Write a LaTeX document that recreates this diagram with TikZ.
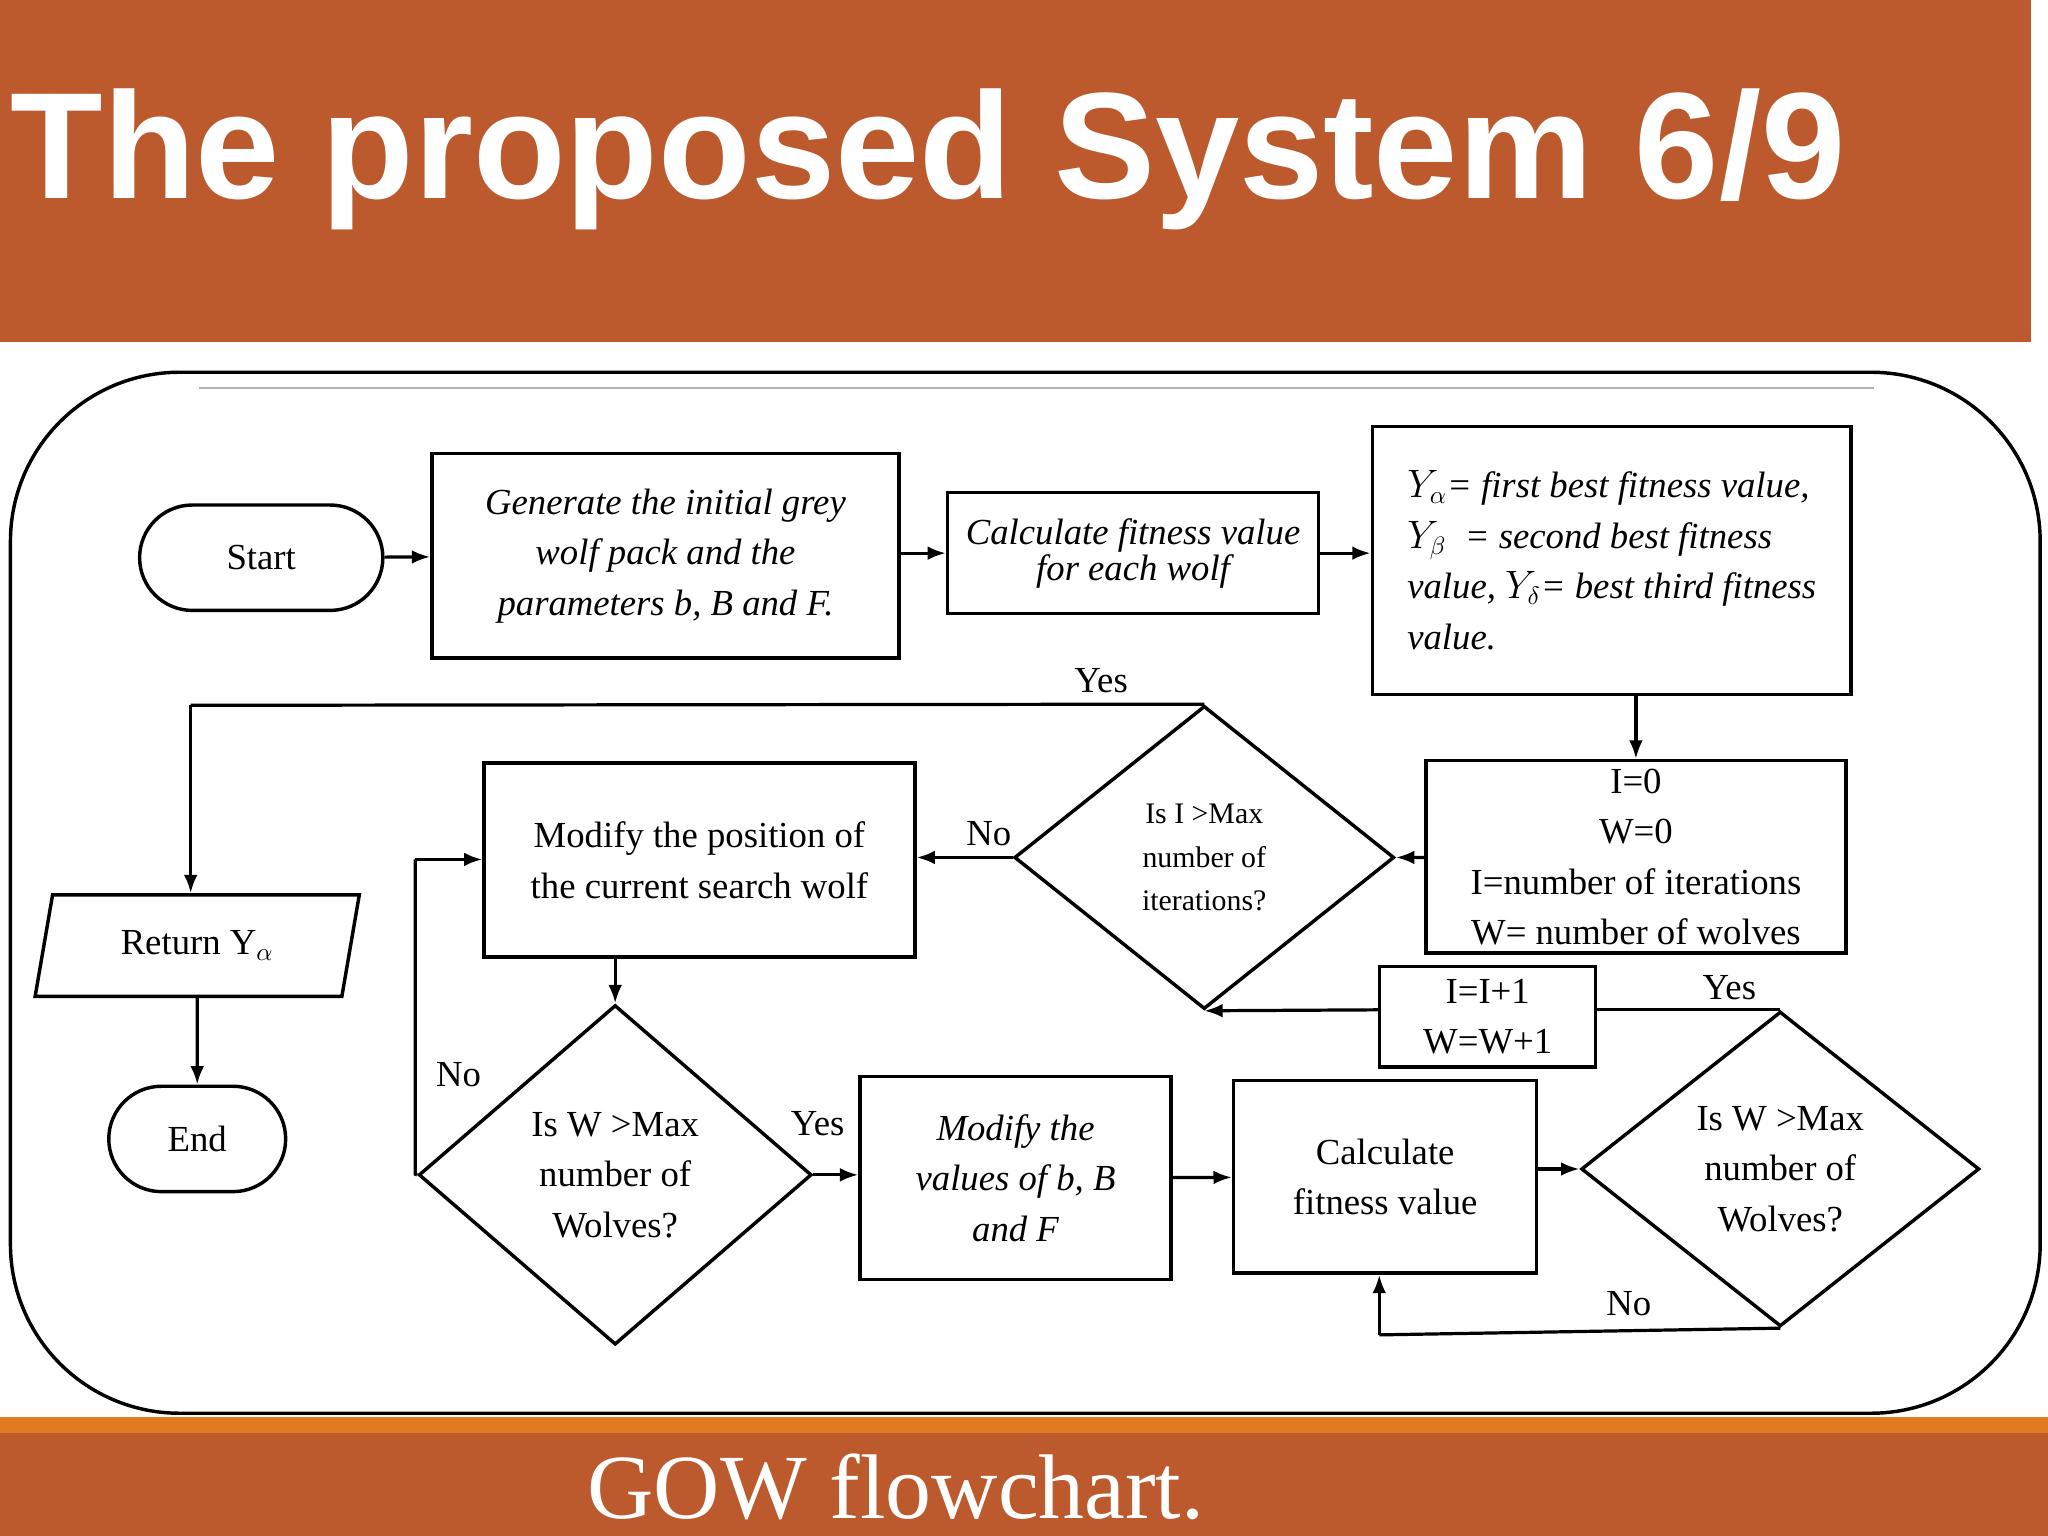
\documentclass[tikz,border=0pt]{standalone}
\usepackage{fontspec}
\setmainfont{Liberation Serif}
\newfontfamily\titlefont{Liberation Sans}
\usetikzlibrary{shapes.geometric,shapes.misc,arrows.meta}
\definecolor{brick}{HTML}{BC5A2E}
\definecolor{orng}{HTML}{E07B1F}
\begin{document}
\begin{tikzpicture}[x=0.02cm,y=-0.02cm,
  box/.style={draw,line width=1.5pt,inner sep=2pt,align=center,font=\fontsize{16}{20}\selectfont},
  dia/.style={draw,diamond,line width=1.5pt,inner sep=0pt,align=center},
  ln/.style={line width=1.4pt},
  ar/.style={line width=1.4pt,-{Latex[length=8pt,width=6pt]}},
  lbl/.style={font=\fontsize{16}{20}\selectfont}]
\useasboundingbox (0,0) rectangle (1568,1176);
\fill[white] (0,0) rectangle (1568,1176);
% header
\fill[brick] (0,0) rectangle (1555,262);
\node[anchor=west,text=white,font=\titlefont\bfseries\fontsize{66}{70}\selectfont] (title) at (2,122) {The proposed System 6/9};
% frame
\draw[line width=1.5pt,rounded corners=130pt*0.567] (8,285) rectangle (1562,1082);
\draw[gray!60,line width=0.6pt] (152,297) -- (1435,297);
% footer
\fill[orng] (0,1085) rectangle (1568,1097);
\fill[brick] (0,1097) rectangle (1568,1176);
\node[text=white,font=\fontsize{40}{44}\selectfont] (foot) at (686,1138) {GOW flowchart.};
% nodes
\node[box,rounded rectangle,minimum width=194*0.567pt,minimum height=81*0.567pt] (start) at (200,427) {Start};
\node[box,minimum width=359*0.567pt,minimum height=157*0.567pt,font=\itshape\fontsize{16}{22}\selectfont] (gen) at (509.5,425.5) {Generate the initial grey\\wolf pack and the\\parameters b, B and F.};
\node[box,minimum width=285*0.567pt,minimum height=93*0.567pt,font=\itshape\fontsize{16}{14}\selectfont] (calc) at (867.5,423.5) {Calculate fitness value\\for each wolf};
\node[box,minimum width=368*0.567pt,minimum height=206*0.567pt,align=left,font=\itshape\fontsize{16}{22}\selectfont] (yv) at (1234,429) {$Y_\alpha$= first best fitness value,\\$Y_\beta$ \ = second best fitness\\value, $Y_\delta$= best third fitness\\value.};
\node[box,minimum width=323*0.567pt,minimum height=148*0.567pt,font=\fontsize{16}{22}\selectfont] (init) at (1252.5,656) {I=0\\W=0\\I=number of iterations\\W= number of wolves};
\node[dia,minimum width=292*0.567pt,minimum height=233*0.567pt,font=\fontsize{13}{19}\selectfont] (d1) at (922,656.5) {Is I >Max\\number of\\iterations?};
\node[box,minimum width=331*0.567pt,minimum height=149*0.567pt,font=\fontsize{16}{22}\selectfont] (modp) at (535.5,658.5) {Modify the position of\\the current search wolf};
\node[box,trapezium,trapezium left angle=76,trapezium right angle=104,minimum width=250*0.567pt,minimum height=78*0.567pt,trapezium stretches=true] (ret) at (151,724) {Return Y$_\alpha$};
\node[box,rounded rectangle,minimum width=143*0.567pt,minimum height=81*0.567pt] (end) at (151,872) {End};
\node[dia,minimum width=302*0.567pt,minimum height=261*0.567pt,font=\fontsize{16}{22}\selectfont] (d2) at (471,899.5) {Is W >Max\\number of\\Wolves?};
\node[box,minimum width=239*0.567pt,minimum height=156*0.567pt,font=\itshape\fontsize{16}{22}\selectfont] (modv) at (777.5,902) {Modify the\\values of b, B\\and F};
\node[box,minimum width=233*0.567pt,minimum height=148*0.567pt,font=\fontsize{16}{22}\selectfont] (cf) at (1060.5,901) {Calculate\\fitness value};
\node[dia,minimum width=306*0.567pt,minimum height=242*0.567pt,font=\fontsize{16}{22}\selectfont] (d3) at (1363,895) {Is W >Max\\number of\\Wolves?};
\node[box,minimum width=166*0.567pt,minimum height=77*0.567pt,font=\fontsize{16}{22}\selectfont] (inc) at (1139,778.5) {I=I+1\\W=W+1};
\coordinate (c1) at (146,540);
\coordinate (c2) at (318,899);
\coordinate (c3) at (318,658);
\coordinate (c4) at (1056,1022);
% connectors
\draw[ar] (start) -- (gen);
\draw[ar] (gen.east|-calc) -- (calc);
\draw[ar] (calc) -- (yv.west|-calc);
\draw[ar] (yv.south-|init) -- (init);
\draw[ar] (init) -- (d1.east);
\draw[ar] (d1.west) -- (modp.east|-d1.west);
\draw[ln] (d1.north) -- (c1);
\draw[ar] (c1) -- (ret.north-|c1);
\draw[ar] (ret.south-|end) -- (end);
\draw[ar] (modp.south-|d2) -- (d2.north);
\draw[ar] (d2.east) -- (modv.west|-d2.east);
\draw[ln] (d2.west) -- (c2) -- (c3);
\draw[ar] (c3) -- (modp.west|-c3);
\draw[ar] (modv) -- (cf);
\draw[ar] (cf.east|-d3) -- (d3.west);
\draw[ln] (d3.south) -- (c4);
\draw[ar] (c4) -- (cf.south-|c4);
\draw[ln] (d3.north) -- (inc.east|-d3.north);
\draw[ar] (inc.west|-d3.north) -- (d1.south);
% labels
\node[lbl] (y1) at (843,521) {Yes};
\node[lbl] (n1) at (757,638) {No};
\node[lbl] (n2) at (351,823) {No};
\node[lbl] (y2) at (626,860) {Yes};
\node[lbl] (y3) at (1324,756) {Yes};
\node[lbl] (n3) at (1247,998) {No};
\end{tikzpicture}
\end{document}
